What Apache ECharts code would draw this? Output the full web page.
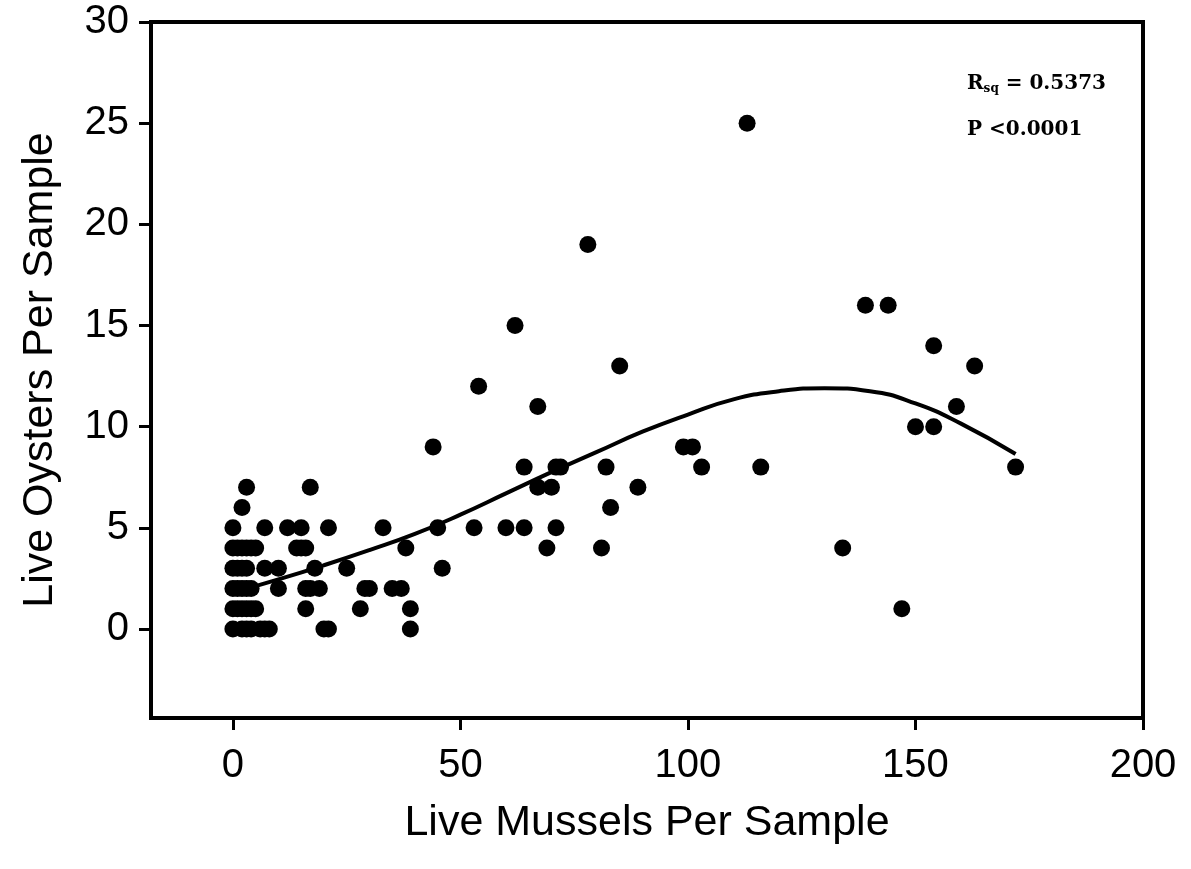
<!DOCTYPE html>
<html>
<head>
<meta charset="utf-8">
<script src="https://cdn.jsdelivr.net/npm/echarts@6/dist/echarts.min.js"></script>
<style>
html,body{margin:0;padding:0;background:#fff;}
#chart{width:1191px;height:869px;}
</style>
</head>
<body>
<div id="chart"></div>
<script>
// Data points (x = live mussels, y = live oysters)
const musselsX = [
  0,2,3,4,6,7,8,20,21,39,
  0,1,2,3,4,5,16,28,39,147,
  0,1,2,3,4,10,16,17,19,29,30,35,37,
  0,1,2,3,7,10,18,25,46,
  0,1,2,3,4,5,14,15,16,38,69,81,134,
  0,7,12,15,21,33,45,53,60,64,71,
  2,83,
  3,17,67,70,89,
  64,71,72,82,103,116,172,
  44,99,101,
  150,154,
  67,159,
  54,
  85,163,
  154,
  62,
  139,144,
  78,
  113
];
const oystersY = [
  0,0,0,0,0,0,0,0,0,0,
  1,1,1,1,1,1,1,1,1,1,
  2,2,2,2,2,2,2,2,2,2,2,2,2,
  3,3,3,3,3,3,3,3,3,
  4,4,4,4,4,4,4,4,4,4,4,4,4,
  5,5,5,5,5,5,5,5,5,5,5,
  6,6,
  7,7,7,7,7,
  8,8,8,8,8,8,8,
  9,9,9,
  10,10,
  11,11,
  12,
  13,13,
  14,
  15,
  16,16,
  19,
  25
];
// Fitted curve
const fitX = [0,10,20,30,40,50,60,70,80,90,100,110,120,130,140,150,160,172];
const fitY = [1.8,2.45,3.15,3.9,4.7,5.65,6.7,7.75,8.75,9.75,10.6,11.35,11.75,11.9,11.75,11.15,10.15,8.65];
const xTicks = [0,50,100,150,200];
const yTicks = [0,5,10,15,20,25,30];
const xTitle = 'Live Mussels Per Sample';
const yTitle = 'Live Oysters Per Sample';
const rsqText = '0.5373';
const pText = 'P <0.0001';

const chart = echarts.init(document.getElementById('chart'), null, {renderer:'canvas'});
const pts = musselsX.map((x,i)=>[x, oystersY[i]]);
const fit = fitX.map((x,i)=>[x, fitY[i]]);
const font = 'Liberation Sans, Arial, sans-serif';
const serifB = 'DejaVu Serif, serif';

chart.setOption({
  animation:false,
  backgroundColor:'#fff',
  grid:{left:151,right:48,top:22,bottom:151,show:true,borderColor:'#000',borderWidth:4,backgroundColor:'transparent'},
  xAxis:{
    type:'value',min:-18,max:200,
    splitLine:{show:false},
    axisLine:{show:true,onZero:false,lineStyle:{color:'#000',width:4}},
    axisTick:{show:true,inside:false,length:12,lineStyle:{color:'#000',width:3},customValues:xTicks},
    axisLabel:{customValues:xTicks,color:'#000',fontFamily:font,fontSize:40,margin:28},
    name:xTitle,nameLocation:'middle',nameGap:84,
    nameTextStyle:{color:'#000',fontFamily:font,fontSize:43}
  },
  yAxis:{
    type:'value',min:-4.4,max:30,
    splitLine:{show:false},
    axisLine:{show:true,onZero:false,lineStyle:{color:'#000',width:4}},
    axisTick:{show:true,inside:false,length:12,lineStyle:{color:'#000',width:3},customValues:yTicks},
    axisLabel:{customValues:yTicks,color:'#000',fontFamily:font,fontSize:40,margin:22},
    name:yTitle,nameLocation:'middle',nameGap:89,
    nameTextStyle:{color:'#000',fontFamily:font,fontSize:43}
  },
  graphic:[
    {type:'text',left:967,top:74,style:{
      text:'{r|R}{s|sq}{r| = '+rsqText+'}',
      rich:{
        r:{fontFamily:serifB,fontWeight:'bold',fontSize:20,fill:'#000'},
        s:{fontFamily:serifB,fontWeight:'bold',fontSize:12,fill:'#000',padding:[9,0,0,0]}
      }
    }},
    {type:'text',left:967,top:120,style:{
      text:pText,fontFamily:serifB,fontWeight:'bold',fontSize:20,fill:'#000'
    }}
  ],
  series:[
    {type:'scatter',data:pts,symbol:'circle',symbolSize:17,itemStyle:{color:'#000',opacity:1},z:3},
    {type:'line',data:fit,smooth:true,showSymbol:false,lineStyle:{color:'#000',width:4},z:4}
  ]
});
</script>
</body>
</html>
